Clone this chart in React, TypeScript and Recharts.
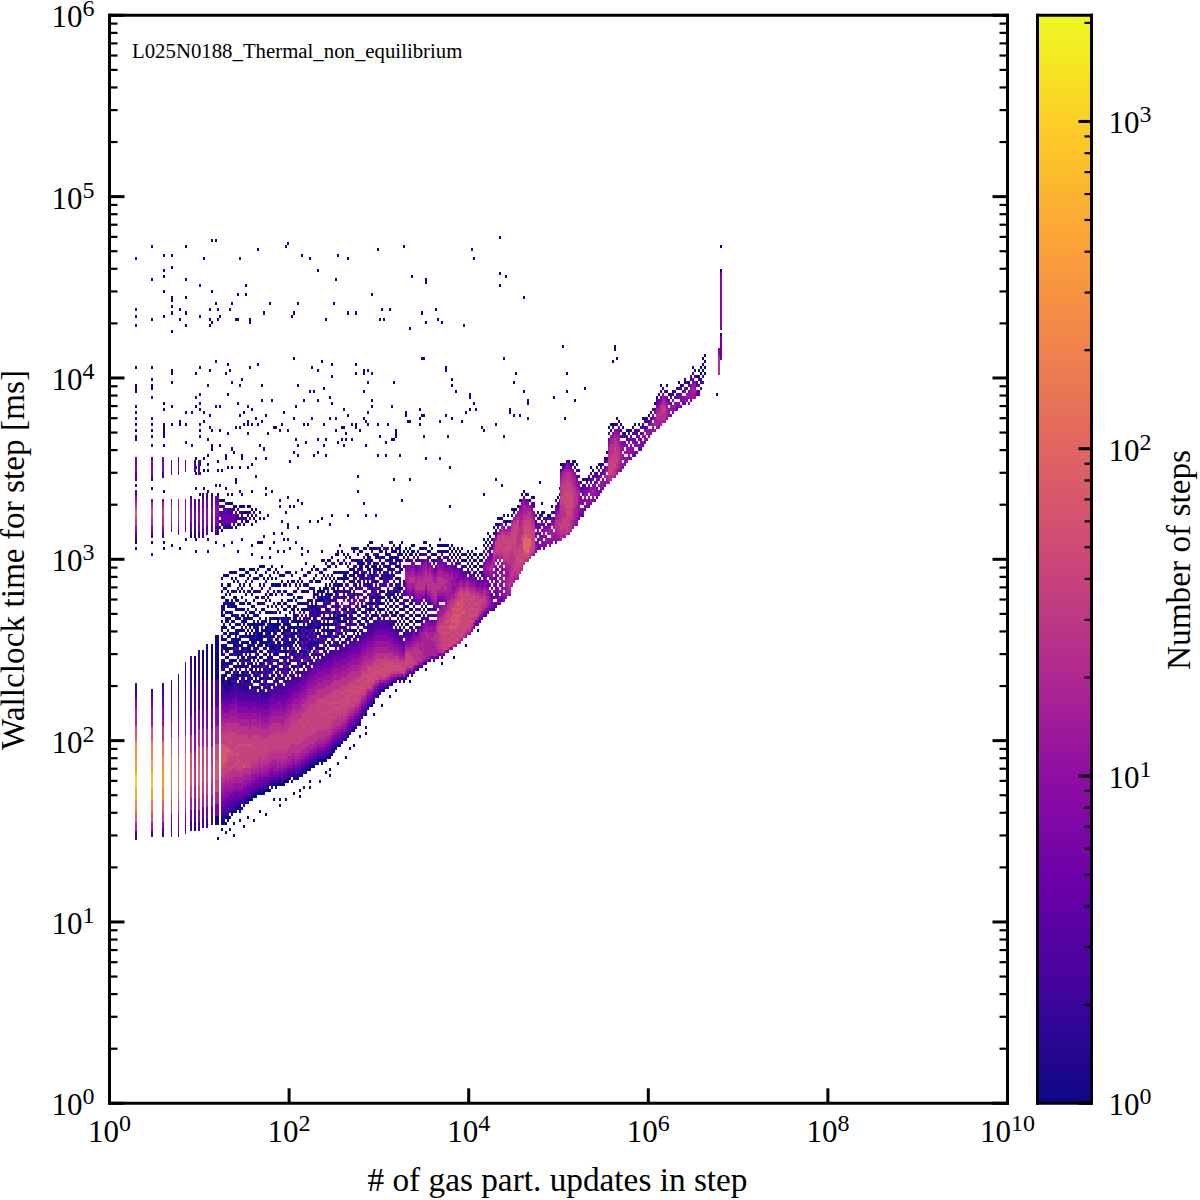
import { ScatterChart, Scatter, XAxis, YAxis, ReferenceArea } from 'recharts'

// histogram bins: 45 per decade in x, 60 per decade in y
const X_BINS_PER_DEC = 45
const Y_BINS_PER_DEC = 60
const BIN_W = 898 / 10 / X_BINS_PER_DEC
const BIN_H = 1088 / 6 / Y_BINS_PER_DEC

const xMajorTicks = [1, 1e2, 1e4, 1e6, 1e8, 1e10]
const yMajorTicks = [1, 1e1, 1e2, 1e3, 1e4, 1e5, 1e6]
const yMinorTicks = [2, 3, 4, 5, 6, 7, 8, 9]
const cbarMajorTicks = [1, 10, 100, 1000]
const COUNT_MAX = 2110

const plasmaStops = ['#0d0887', '#41049d', '#6a00a8', '#8f0da4', '#b12a90', '#cc4778', '#e16462', '#f2844b', '#fca636', '#fcce25', '#f0f921']

// vertical stripes at small integer update counts: x bin, width in bins, [y0, count, y1, count, ... yEnd]
const stripeBins = [12.75, 20.75, 26.5, 30.65, 34.1, 37.75, 40.25, 42.1, 44.5, 46.4, 48.5, 50.7, 53]
const stripeWidths = [1, 1, 1, 0.7, 0.7, 0.7, 1, 1, 1, 1, 1, 1, 1.7]
const stripeBands = [
  [87, 2, 90, 20, 93, 90, 96, 200, 100, 450, 104, 900, 109, 400, 114, 250, 120, 70, 125, 20, 131, 8, 134, 2, 139, 0, 186, 3, 189, 12, 191, 35, 194, 80, 197, 30, 199, 12, 201, 3, 203, 0, 206, 3, 209, 8, 212, 6, 214],
  [88, 2, 90, 15, 93, 60, 96, 150, 100, 350, 104, 700, 110, 300, 114, 200, 120, 60, 125, 12, 131, 6, 134, 2, 137, 0, 187, 2, 189, 8, 191, 25, 194, 50, 197, 20, 199, 6, 200, 0, 206, 2, 208, 8, 213, 4, 214],
  [88, 2, 91, 10, 93, 40, 96, 90, 100, 200, 104, 350, 110, 250, 115, 120, 120, 30, 125, 10, 131, 4, 135, 2, 139, 0, 187, 2, 189, 8, 191, 20, 194, 35, 197, 15, 199, 5, 200, 0, 207, 2, 209, 8, 212, 5, 214],
  [88, 3, 92, 8, 96, 50, 100, 100, 104, 150, 110, 120, 115, 60, 121, 15, 126, 6, 132, 2, 140, 0, 189, 5, 191, 15, 194, 20, 197, 12, 199, 3, 200, 0, 208, 5, 213],
  [88, 3, 92, 8, 96, 30, 100, 80, 104, 140, 110, 100, 115, 40, 121, 12, 127, 5, 133, 2, 142, 0, 188, 5, 191, 15, 194, 25, 197, 12, 200, 0, 208, 5, 214],
  [89, 2, 92, 6, 96, 20, 100, 60, 104, 100, 110, 80, 116, 40, 122, 10, 128, 4, 135, 2, 146, 0, 189, 3, 191, 8, 194, 12, 197, 6, 200, 0, 209, 3, 213],
  [90, 2, 93, 5, 97, 15, 101, 40, 105, 70, 111, 60, 116, 25, 122, 8, 128, 3, 136, 2, 148, 0, 187, 1, 189, 4, 192, 8, 197, 5, 200, 2, 201],
  [90, 1, 93, 3, 97, 8, 101, 15, 105, 25, 111, 20, 116, 10, 122, 5, 129, 2, 138, 1, 148, 0, 187, 1, 190, 3, 193, 5, 197, 3, 200, 0, 209, 2, 213],
  [90, 3, 93, 8, 97, 30, 101, 60, 105, 100, 112, 80, 118, 25, 124, 8, 130, 3, 140, 2, 150, 0, 187, 2, 189, 6, 192, 10, 196, 6, 199, 2, 200, 0, 208, 3, 213],
  [91, 2, 94, 5, 98, 15, 102, 30, 106, 50, 112, 40, 118, 15, 124, 6, 130, 3, 140, 1, 150, 0, 187, 2, 190, 6, 193, 8, 197, 5, 200, 2, 202],
  [91, 2, 94, 5, 98, 18, 102, 35, 106, 55, 112, 45, 118, 18, 124, 6, 130, 3, 140, 1, 152, 0, 188, 3, 191, 8, 194, 10, 197, 5, 200, 2, 202],
  [92, 2, 95, 4, 98, 12, 102, 25, 106, 40, 112, 30, 118, 12, 124, 5, 131, 2, 140, 1, 152, 0, 189, 3, 191, 6, 194, 8, 197, 4, 200, 2, 202],
  [92, 1, 95, 6, 99, 20, 103, 50, 107, 70, 114, 50, 119, 20, 125, 8, 131, 3, 140, 1, 155, 0, 188, 2, 191, 7, 194, 10, 198, 5, 201],
]

// count behind each character of the column strings, '.' is an empty bin
const levelCounts: Record<string, number> = { '1': 1, '2': 2, '3': 3, '4': 5, '5': 8, '6': 12, '7': 17, '8': 26, '9': 38, a: 50, c: 72, b: 105 }

// main body of the histogram: x bin, first y bin, counts going up the column
const heatColumns: [number, number, string][] = [
  [56, 90, '1.1122334455667788999cccccccca9998887766554433222112.2112.1121.11.21.1.1121..1.1.1'],
  [57, 91, '.11223344556677889999cccccca99998877665544332221211.1211.2.11.1.2.11..1.1.1.1..1'],
  [58, 92, '1.12233445566778899a9ccccca999988876655443332122.11.21.1.211.1.1.1.11.1...1.1'],
  [59, 93, '11223344556778889999a9acc99a99888766554433212112.1.21.1.11.2.1.1..11.1.1.1.'],
  [60, 94, '1.2233445667788899999aca9a999988776655433322111.21.11.2.1.1.21..1.1.1..1..1'],
  [61, 95, '1123344566778889a99aaa99a9998887766554433221211.1.21.1.2.11.1.1.1.1..1.1'],
  [62, 95, '.1223344566778889999a99999998887766554433222.121.1.1.21.1.1.2.1.1.1..1.'],
  [63, 96, '1122344566778899a9aa9a999998887766655443322211.21.1.21.11.1.1.1.1...1.1'],
  [64, 96, '.122344566778899aa9ca9a99988887665544333221.211.12.1.1.2.1.11.1.1..1'],
  [65, 97, '11234456677889a9a9999a999888776655443332221.1.21.1.21.1.11.1.1.1..1.'],
  [66, 97, '1.2344566778899a99999a99988877665544333222.121.12.1.1.21.1.1..1.1.1'],
  [67, 98, '1223445667788c999a99a999888776655443332122.11.21.1.21.1.1.1.1.1..1'],
  [68, 98, '.12344566778899a9999a9998887766554433222.1.1.21.1.2.1.1.21.1.1..1.'],
  [69, 99, '1123445667889a999a9a9988887765544433221221.1.21.1.1.21.1.1.1..1.1'],
  [70, 99, '.12344567788999a999a998887766554433322.21.1.2.21.11.1.2.1.1..1.1'],
  [71, 100, '112344566778899999a99988877665544332212.1.21.1.2.1.21.1.1.1.1..'],
  [72, 100, '.12344566788999a9999998887766554433222.1.21.1.21.1.1.2.1.1.1.1'],
  [73, 101, '1123445677889999a99998887766554433222.211.1.2.1.21.1.2.1.1..1'],
  [74, 101, '.1234456778899999999988776655443332.1.1.21.2.1.1.21.1.1.1.1.'],
  [75, 102, '112344567788899a99998887766554433212.21.1.21.1.2.1.1.1..1.1'],
  [76, 101, '.12344567788999999988887766554433222.1.1.2.21.1.1.21.1.1.1.'],
  [77, 102, '1123445677889999999888776655444322121.21.1.21.2.1.1.1.1.1'],
  [78, 102, '.12344567788999a999888776655443332.2.1.21.2.1.1.2.1.1.1..1'],
  [79, 103, '112345667888999999888776655443322212.1.2.1.21.1.2.1.1.1.'],
  [80, 103, '1.2344567788899999988877665544433322.1.21.21.1.1.2.1.1.1.1'],
  [81, 104, '112344567788899999988877665544332.2.21.1.2.1.21.1.1.1.1.'],
  [82, 104, '.12345667788999999888877665544433222.1.21.2.1.1.2.1.1.1'],
  [83, 104, '1123456677888999999888776655443322.21.2.1.2.1.21.1.1.1.'],
  [84, 104, '.12345677888999a99988877665554433222.1.2.21.1.2.1.1.1.1'],
  [85, 105, '1123456778889999998887776655443322.21.2.1.2.11.1.2.1.1.'],
  [86, 104, '.1234567788899999988877766554433322.1.21.2.1.1.2.1.1.1'],
  [87, 105, '112345677888999999888776655444332.21.2.1.21.1.1.2.1.1'],
  [88, 105, '.1234567788899999988887766554433222.1.2.21.1.2.1.1.1.'],
  [89, 106, '11234567788999999988877766554433322.21.1.2.1.21.1.1.1'],
  [90, 106, '.123456778889999999888776655444332.2.1.21.2.1.1.2.1.1'],
  [91, 106, '1.234566778889a9999988877665544433222.1.2.21.1.2.1.1.'],
  [92, 107, '11234567788899999999888776655443322.21.2.1.2.1.21.1.1'],
  [93, 106, '.12345677888999a9999888777665544332.2.1.21.2.1.1.1.1.'],
  [94, 107, '1123456778889999999988877665544433222.1.21.2.1.2.1.1'],
  [95, 107, '.1234567788899a9999988877766554433.2.1.2.21.1.1.2.1.'],
  [96, 108, '11234567788899999999988877665544332.21.2.1.2.1.1.1.1'],
  [97, 108, '.123456778889999a9999888776655443322.1.21.2.1.2.1.1'],
  [98, 109, '1123456778889999999998887766554433.21.2.1.2.1.1.1.'],
  [99, 109, '.1234567788899999a999988877665544333.2.1.21.2.1.1.1'],
  [100, 110, '112345677888999a9999998887766554433222.1.21.1.2.1.1'],
  [101, 110, '.123456778889999999999888776655443.22.1.2.21.1.1.1.'],
  [102, 111, '11234567888999a99999988877766554433.2.1.21.2.1.1.1'],
  [103, 111, '.1234567788899999a999988877665544332.1.2.1.21.1.1.'],
  [104, 112, '112345678889999999a999888776655443322.21.2.1.1.1.1'],
  [105, 112, '.12345677888999a9a99998887766554433.2.1.2.21.1.1.'],
  [106, 112, '1123456788899999a99999888776655443322.1.2.1.2.1.1'],
  [107, 112, '.123456778889999a999a988877766554433.21.2.1.1.1.'],
  [108, 113, '11234567888999a9a99999888776655443322.1.21.2.1.1'],
  [109, 113, '.12345677889999a999a9988877665544433.2.1.2.1.1.1'],
  [110, 114, '1123456788899a9a9a999888776655443322.21.1.2.1.1'],
  [111, 115, '112345678889999a9a99988877665544332.2.1.21.1.1.'],
  [112, 116, '11234567888999a9a99998887766554433.21.2.1.2.1.1'],
  [113, 117, '1234567788999a9a9a998887766554433222.1.2.1.1.1'],
  [114, 117, '.123456788899a9a99998887766554433.21.21.2.1.1.'],
  [115, 118, '123456788999a9a9a99888776655443322.1.2.1.1.1'],
  [116, 119, '123456788899a9a9a99888776655443322.21.2.1.1.'],
  [117, 119, '.234567889999aa9a998887766554433.2.1.21.1.1.1'],
  [118, 120, '12345678999a9aa9a98887766554433222.1.2.1.1.'],
  [119, 121, '12345678899aaa9a998887766554433.21.2.1.1.1'],
  [120, 122, '12345678999a9aa9a8887766554433222.1.21.1.1'],
  [121, 122, '.23456788999aaa9a98887766554433.2.1.2.1.1.'],
  [122, 123, '1234567899a9aaa9988877665544332.21.2.1.1'],
  [123, 124, '123456789a9aaa99988776655443322.1.2.1.1.'],
  [124, 124, '.2345678999aaa9a9887766554433.21.2.1.1.'],
  [125, 125, '1234567899aaa9a988877665544332.2.21.1.1'],
  [126, 127, '123456789aaa9a9988776655443322.1.2.1.1'],
  [127, 127, '.2345678a9aaa9a98887766554433.21.1.1.1'],
  [128, 128, '123456789aaa9a98887766554433.2.21.1.1'],
  [129, 130, '12345679aaaa9a9887766554433221.2.1.1.'],
  [130, 130, '.234567a9aaa9a988776655443322.1.21.1.1'],
  [131, 131, '12345789aaaa9988776655443322.21.1.1.1'],
  [132, 132, '1234568aaaaa9988776655443322.1.2.1.1'],
  [133, 133, '.234578aaa9a998877665544332.21.1.1.1.'],
  [134, 134, '123468a9aaa99887766554433222.1.1.1'],
  [135, 135, '123568aaaa9988776655443322.21.1.1.1'],
  [136, 135, '.23478aaa9a98877665544332.2.1.1.1.1'],
  [137, 136, '12469aaaaa9887766554433222.1.2.1.1'],
  [138, 136, '.2468aaaa9a9877665544332.21.1.1.1.'],
  [139, 137, '13579aaaa98877665544332.2.1.1.1.1'],
  [140, 137, '.2468aaaa988766554433222.1.2.1.1'],
  [141, 138, '13579aaa98876655443322.21.1.1.1.'],
  [142, 138, '.2479aaa98776554433.22.1.2.1.1.1'],
  [143, 139, '2479aa9987665443322.1.21.1.12.1.1'],
  [144, 139, '.368aa998766544332.2.1.1.2.1.1.1.'],
  [145, 139, '1369aa9876654433.21.1.2.1.2.1.21.1'],
  [146, 139, '.259a99876554332.2.1.21.1.2.32.1.'],
  [147, 139, '1379a998765433.21.1.2.1.2332.43.21'],
  [148, 140, '13789a99987655332.1.1.2.1.1.3445677654.2.1.1'],
  [149, 141, '1479a99987654432.1.2.1.1.3.4567776655.21.1'],
  [150, 141, '.36999998765433.1.1.2.1.2.45677887654.2.1.1'],
  [151, 141, '24799998877654321.2.1.1.12.456788776543.21.1'],
  [152, 142, '246998888765654.2.1.2.1.2345678877654.2.1.1'],
  [153, 142, '.3598888877653.2.1.1.2.3456788776543.2.1'],
  [154, 143, '147888888765432.1.1.3.4566788877654.32.1'],
  [155, 143, '.36888877766654.2.1.2.3456788887655.2.1.1'],
  [156, 144, '25878878777654321.1.2.44678887766543.2.1'],
  [157, 144, '.36877877777665.32.1.3.4678888776654.2.1.1'],
  [158, 145, '1577777777876654.2.1.23456788887765.2.1.1'],
  [159, 145, '.4777777787665432.1.2456788887765432.1'],
  [160, 146, '25777777776654.3.2.24567888887765.2.1.1'],
  [161, 146, '.4777778776653.2.3.4677888887665.2.1.1'],
  [162, 146, '25777778876654.3.24677888876654.21.1'],
  [163, 146, '.4777888887765.3.456788888776543.2.1'],
  [164, 147, '2578888889987765.43456788887766542.1.1'],
  [165, 147, '.48898989999887765.456788887765432.2.1.1'],
  [166, 147, '26899999a9a9887766.45677888776554.21.1'],
  [167, 148, '389a9a9a9a9a88776.5567888776554.3.2.1'],
  [168, 148, '.5a9a9aa9a9a9987765667878776543.2.1.1'],
  [169, 149, '48a9a9a9a9c9a9887767777777654.32.1.1'],
  [170, 149, '.6a9a9aaca9a99888776777776554.2.1.1'],
  [171, 150, '59a9a9acacca9a988776666776543.2.1.1'],
  [172, 150, '.7a9a9acacacac99877656665543.2.1.1'],
  [173, 151, '69a9aacacccacaa9887665665432.2.1'],
  [174, 151, '.8a9a9accacacaca9987654554.32.1.1'],
  [175, 152, '78a9a9acacacaca9a98765443.2.1.1'],
  [176, 153, '79a9a9a9acacacaa987654432.1.2.1'],
  [177, 153, '.89a9a9aaca9a9a98765432.2.1.1'],
  [178, 154, '689a9aa9a9a9a9a9876543.2.1.1'],
  [179, 155, '789aa9a9aa9a9a98765.32.1.1.1'],
  [180, 155, '68a9a9a9a9a9a98765432.1.2.1'],
  [181, 156, '579a9a9aa9a98876543.2.1.1.1'],
  [182, 157, '4689a9a9a9a98765432.1.1.1'],
  [183, 158, '358a9a9a99876543.2.1.2.1.1'],
  [184, 158, '34799a9a9987643.2.1.1.1'],
  [185, 159, '2468999a8876543.1.2.1.1'],
  [186, 160, '3578899876543.21.1.1.1.'],
  [187, 160, '.357889988654435665.3.2.1.1'],
  [188, 161, '3468888776544566654.3.1.1'],
  [189, 162, '35677766544.5677654.3.2.1.1'],
  [190, 162, '.4566554.4.56787654432.1.1'],
  [191, 163, '345543.4.4567887654.32.1'],
  [192, 163, '.44.3.4.5.4.5.6788987654.1.1'],
  [193, 164, '34.44.5.4.5.45.67899996521.1'],
  [194, 165, '3.4.54.6.5.4.5.689999996.21.1'],
  [195, 165, '.45.6.5.6.5.6.78899a99976.2.1'],
  [196, 166, '3.5.6.6.6.5.6.7899999a9876.1'],
  [197, 166, '.56.6.7.6.6.7899a999a9875.2.1'],
  [198, 167, '5.6.7.6.6.7.8999a9a9987.21'],
  [199, 167, '.7778776677889999a9a9876.2.1'],
  [200, 168, '678888887788899a9a99876.1'],
  [201, 171, '788898888888999a999886.1.1'],
  [202, 172, '7788998889999a9a999986.21'],
  [203, 172, '.788999999999999a9a9876.1'],
  [204, 173, '7889999a99988888999a876.1'],
  [205, 174, '.8899a99a998888887777654.1'],
  [206, 176, '889a9a9999a9888887776654.1'],
  [207, 178, '899aabbbbaaaa9988777654.1'],
  [208, 178, '.8aabbbbbbaaa998877654.1'],
  [209, 179, '89abbbbbaaaaa99887654.1'],
  [210, 180, '89aabbbaaaa9988876.1'],
  [211, 180, '.7999a9a99988876543.1'],
  [212, 181, '6899a9999887665.32.1'],
  [213, 182, '5665.54.432.2'],
  [214, 182, '.4453.5543.2.1'],
  [215, 183, '45.553.45.32'],
  [216, 183, '.5564.5.43.21'],
  [217, 183, '455.66543.2.1'],
  [218, 184, '5665.64.32'],
  [219, 184, '.56.7654.31'],
  [220, 184, '566.7764.21'],
  [221, 185, '56777.654.2.1'],
  [222, 185, '.667.7653.1'],
  [223, 185, '5667788877543.2'],
  [224, 185, '.6778888776432.1'],
  [225, 186, '67888988877654.2.1'],
  [226, 186, '788999888888999888877652.1'],
  [227, 186, '.7889999888899a99998877631'],
  [228, 187, '78899998899aa9a9998887642'],
  [229, 187, '.8999999a9a9aaaa9998887653'],
  [230, 188, '7889999a9aaaaa99998887541'],
  [231, 189, '788899a9aaaa99998887632'],
  [232, 190, '67788889999998887765.21'],
  [233, 190, '.667777888888877765.2.1'],
  [234, 191, '56677778888776654.2.1'],
  [235, 193, '4556666677654.2.1'],
  [236, 193, '.455.554.43.2'],
  [237, 194, '445.55.4432.1'],
  [238, 196, '45.566543.2'],
  [239, 196, '.566.654.21'],
  [240, 197, '4556.654.32'],
  [241, 198, '56.766.43.2.1'],
  [242, 198, '.566765.43.1'],
  [243, 199, '5.66654.32'],
  [244, 200, '4554.5432.1'],
  [245, 200, '.55.6.54.3.1'],
  [246, 202, '4566.53.21'],
  [247, 203, '5665.43.2'],
  [248, 204, '56.7654.21'],
  [249, 204, '.677.76.42.1'],
  [250, 205, '788999998877654.2.1'],
  [251, 206, '889a99998888775.2.1'],
  [252, 206, '.8999a9998887765.21'],
  [253, 207, '7889a99999888765.1'],
  [254, 208, '778899998887765.2.1'],
  [255, 208, '.677888887776654.1'],
  [256, 209, '5667777665.3.2.1'],
  [257, 210, '56.66.655.32.1'],
  [258, 211, '566.6.54.21'],
  [259, 212, '56.665.32.1'],
  [260, 212, '.5666.54.31'],
  [261, 213, '5.565.43.2'],
  [262, 213, '.455.54.2.1'],
  [263, 214, '45.554.32.1'],
  [264, 215, '4.55.432'],
  [265, 215, '.45.54.3.1'],
  [266, 216, '4554.3.2'],
  [267, 217, '45.65.32.1'],
  [268, 218, '566.53.21'],
  [269, 219, '5.664.32'],
  [270, 220, '566.53.1'],
  [271, 221, '56.654.2'],
  [272, 221, '.667.54.2'],
  [273, 222, '6.776.53.1'],
  [274, 222, '.67788775431'],
  [275, 223, '6778887654.1'],
  [276, 224, '7788888654.2.1'],
  [277, 224, '.7889988765.2'],
  [278, 225, '788898765.3'],
  [279, 226, '67776654.2.1'],
  [280, 226, '.566.53.1'],
  [281, 227, '5.664.32'],
  [282, 228, '556.5.31'],
  [283, 228, '.565.4.2'],
  [284, 229, '456.43.2'],
  [285, 229, '.55.53.2.1'],
  [286, 230, '4.554.31'],
  [287, 230, '.455.3.2'],
  [288, 231, '566.54.21'],
  [289, 231, '.566.3.2'],
  [290, 231, '5.665.31'],
  [291, 232, '566665.32'],
  [292, 232, '.6677654.2.1'],
  [293, 233, '667665.3.1'],
  [294, 233, '.44.32.1'],
  [295, 234, '33.3.21.1'],
  [296, 236, '3.32.1.1'],
  [297, 238, '2.2.1.1.1'],
  [298, 241, '1.1.1.1'],
  [305, 241, '888888655'],
  [306, 246, '4444444410555555555555555554410000000100'],
  [304, 234, '1'],
]

// purple noise that fills the holes of the body above the ridge: x bin, first y bin, counts going up
const fillColumns: [number, number, string][] = [
  [62, 136, '3.42..3.1.2...2.1..1'], [63, 137, '.3.2.4...2.1.3..1.1'], [64, 136, '43..2.3.1...1.2.1..1'], [65, 137, '2.4.3..1.2.1..2..1'], [66, 136, '.3.42.1...3.2.1...1'], [67, 137, '3..2.4.1.2...1.1.2'],
  [68, 136, '4.3...2.3.1..2..1.1'], [69, 137, '.4.23..1.2...1.1..'], [70, 136, '3.4.2..3.1.2..1...1'], [71, 137, '4..3.2.1..3.1.2.1'], [72, 136, '.5.3.4..2.1...2.1.1'], [73, 137, '4.3..4.2...3.1..1'],
  [74, 137, '3.5.4..3.2.1.2...1'], [75, 137, '.4.34.2...3.1.1.2'], [76, 136, '5.3.4.3..2.1...2.1.1'], [77, 137, '4.5..3.4.2...1.3.1'], [78, 137, '.4.35.2..3.1.2...1.1'], [79, 138, '5..4.3.4.1.2..1.3'],
  [80, 138, '4.5.3..4.2.3...1.1.2'], [81, 139, '.5.4.3.4..2.1.3...1'], [82, 139, '5.4..5.3.2...3.1.1'], [83, 139, '.4.5.4.3.4..2.1.2..1'], [84, 140, '5.3.4.5..3.2.3...1.1'], [85, 140, '.5.4.3.5.2..3.1.2.1'],
  [86, 140, '4.5..4.3.4.2...3.1.1'], [87, 141, '5.3.5.4..3.2.3.1..1'], [88, 141, '.4.5.3.4.5..2.3...2.1'], [89, 142, '5.4..5.4.3.2.4.1.1'], [90, 142, '.5.3.5.4..3.2.3...1.1'], [91, 142, '4.5.4.3.5.2..3.1.2'],
  [92, 143, '5..4.5.3.4.3.2...1.2.1'], [93, 143, '.4.5.4..5.3.2.3.1.1'], [94, 144, '5.3.5.4.3..4.2...3.1.1'], [95, 144, '.5.4.3.5.4.2.3.1..2'], [96, 145, '4..5.4.5.3.4..2.3.1.1'], [97, 145, '.5.4.5..3.4.2.3...1.1'],
  [98, 146, '5.3.5.4.3.4..3.2.1.2'], [99, 146, '.4.5..4.5.3.2.3..1.1'], [100, 147, '5.4.3.5.4..3.2.3.1.1'], [101, 147, '.5.4.5.3.4.2..3.1.2'], [102, 148, '4..5.4.5.3.4.2.3...1.1'], [103, 148, '.5.3.4.5..4.3.2.1.2'],
  [104, 149, '5.4.5.3.4.3..2.3.1.1'], [105, 149, '.4.5..4.5.3.4.2...2.1'], [106, 150, '5.3.5.4.3.4.2.3.1.1'], [107, 150, '.5.4.5.3..4.3.2.1..1'], [108, 151, '4.5..4.5.3.4.2.3.1.1'], [109, 151, '.5.4.3.5.4.2..3.1.2'],
  [110, 152, '5.3.5.4..3.4.2.3...1.1'], [111, 153, '.4.5.4.3.5.2.3.1.2'], [112, 153, '5..4.5.3.4.3..2.1.1.1'], [113, 154, '.5.3.4.5.4.2.3.1..2'], [114, 154, '4.5.4..5.3.4.2.3.1.1'], [115, 155, '.4.5.3.4.5..3.2.1.2'],
  [116, 155, '5.3.5.4.3.4.2.3...1.1'], [117, 156, '.5.4..5.3.4.2.1.2.1'], [118, 156, '4.5.3.4.5..3.2.3.1.1'], [119, 157, '.4.5.4.3.4.2..3.1.2'], [120, 157, '5..4.5.3.4.3.2.1.1.1'], [121, 158, '.5.3.4.5.2..3.1.2.1'],
  [122, 158, '4.5.4..3.4.3.2.1.1.1'], [123, 159, '.4.5.3.5.4.2..3.1.2'], [124, 159, '5.3.4.5.3..4.2.1.2.1'], [125, 160, '.5.4..3.4.3.2.3.1.1'], [126, 160, '4.5.3.4.2.3..1.2.1.1'], [127, 161, '.4.5.4..3.2.3.1..2'],
  [128, 161, '5.3.4.3.4.2...3.1.1'], [129, 162, '.4.5..3.4.2.3.1.2'], [130, 162, '4.3.4.3..2.3.1..1.1'], [131, 163, '.5.3.4.2.3.1..2.1'], [132, 163, '3.4..4.3.2.3.1.1'], [133, 164, '.4.3.4.2..3.1.2.1'],
  [134, 164, '4.3.2.4.3.2.1...1'], [135, 165, '.3.4.3..2.3.1.2'], [136, 165, '3.4.2.3.1..2.1.1'], [137, 166, '.3.4.2.3.1.2..1'], [138, 166, '4.2..3.2.3.1.1'], [139, 167, '.3.4.2.1.2..1.1'],
  [140, 167, '3.2.3..2.1.2.1'], [141, 168, '.4.2.3.1..2.1.1'], [142, 168, '2.3.2.1.2.1.1'], [143, 169, '.3..2.3.1.1..1'], [144, 169, '3.2.1.2.1..2'], [145, 170, '.2.3.1.2.1.1'],
  [192, 163, '2.3.3.4.3.5.4.'], [193, 165, '3.3.4.4.3.5.'], [194, 166, '4.4.5.4.5.4.'], [195, 165, '4.3.5.5.5.5.4'], [196, 167, '4.5.5.6.5.6'], [197, 166, '5.6.5.6.6.6'], [198, 168, '6.6.7.6.6.7'],
]

// dark noise reaching above the body: x bin, first y bin, counts going up the column
const noiseColumns: [number, number, string][] = [
  [56, 164, '1..2.1...1.'], [57, 163, '.1..1..2...1..'], [58, 165, '2..1.1...1'], [59, 164, '.1...1.1..1.'], [60, 162, '1.2...1..1...1'],
  [61, 160, '..1.21...1...1.1'], [62, 161, '1...1.1.2..1..1'], [63, 160, '.2.1...1.1...1.1'], [64, 158, '1..2.1..1...1.1...'], [65, 159, '.1..1.2...1.1..1.1'],
  [66, 157, '2.1...1.1.2..1...1.1'], [67, 158, '.1.2...1...1.1..1.1'], [68, 155, '1.1..2.1...1.1...2..1'], [69, 156, '..2.1..1.1...2...1.1.'], [70, 154, '1...1.2.1..1...1.1..1.1'],
  [71, 155, '.1.2...1.1...1.1.2...1'], [72, 153, '2.1..1...2.1.1..1...1..1'], [73, 152, '.1.3.1...1.2...1.1...1.1.'], [74, 153, '1..1.2..1...1.1.2...1..1'], [75, 151, '.2.1...1.3.1..1...1.1..1..1'],
  [76, 152, '1.1..2.1...1.2.1..1...1..1'], [77, 150, '..2.1.1..3...1.1.2...1.1...1'], [78, 151, '1...2.1..1.1...2.1...1..1'], [79, 150, '.3.1..1.2...1.1..1.2...1..1'], [80, 149, '1.1.2...3.1..1...1.1.2...1.1'],
  [81, 150, '.2..1.1...2.1.1...1..1.1...1'], [82, 149, '3.1...2.1..1.3..1...1.1...2'], [83, 148, '.1.2.1..3...1.1.2...1..1.1..1'], [84, 149, '2..1.3.1...1..2.1...1.1...1'], [85, 148, '.3.1..1.2...3.1..1...2.1..1'],
  [86, 147, '1.2...1.3.1..1...2.1.1...1.1..1'], [87, 148, '.1..3.1...2.1..1.1...2.1..1'], [88, 147, '2.1.1..3...1.2..1.1...1.2...1'], [89, 148, '.3...1.2.1..1...3.1.1...1..1'], [90, 147, '1.2.1...3.1..2...1.1.1..1...1'],
  [91, 148, '.1..3.1..1.2...1..1.2...1.1'], [92, 147, '3.1...2.1...3.1.1...1.2..1'], [93, 146, '.2.1.3...1.2..1...3.1..1.1...1'], [94, 147, '1..3.1..2...1.1.3...1..2.1'], [95, 147, '.2...3.1.1...2.1..1.1...2.1'],
  [96, 148, '3.1..1.2...3.1...2.1.1..1...1'], [97, 148, '.1.3...2.1..1.3..1...1.2..1'], [98, 149, '2..1.3.1...2..1.1...3.1..1...1'], [99, 149, '.3.1...2.1.1...3.1..1.2...1'], [100, 150, '1.2..3.1...1.2..1...1.3..1'],
  [101, 150, '.1..2.1.3...1.1.2...1.1...1'], [102, 151, '3...1.2.1..3.1...1.2..1...1'], [103, 151, '.2.3..1...2.1.1..3...1.1.2'], [104, 152, '1...3.2..1.1...2.1..1...1'], [105, 152, '.3.1..2...1.3.1...1.1..2'],
  [106, 153, '2..1.3...1.2..1.1...3.1...1'], [107, 153, '.1.3..2.1...1.3..1...1.2..1'], [108, 154, '3.1...2..1.3.1...1.1..2.1'], [109, 154, '.2.1.3...1..2.1.1...3..1.1'], [110, 155, '1..3.1.2...1.1..3.1...1.1'],
  [111, 155, '.3.1...2.1.1...2.1.1...3.1'], [112, 156, '2..3.1..1.2...1..3.1..1'], [113, 157, '.1.2...3.1.1..2...1.1...1'], [114, 157, '3..1.2.1...3.1..1.2...1.1'], [115, 158, '.2.3..1..1.2...3.1..1'],
  [116, 159, '1.3...2.1...1.2.1..3...1'], [117, 159, '.2.1.3..1.2...1.1...2.1'], [118, 160, '3..1...2.1.3..1...1.2'], [119, 161, '.1.3.1..2...1.1.3...1'], [120, 161, '2...3.1.1..2.1...3.1.'],
  [121, 162, '.3.1..2...1.3.1..1...2'], [122, 163, '1..3.1...2.1.1..3...1'], [123, 163, '.2.1.3..1...2.1.1...1'], [124, 164, '3...1.2.1..3...1.1.2'], [125, 165, '.1.3..1.2...1.3..1'],
  [126, 165, '2..1.3...1.2.1...3'], [127, 166, '.3.1..2.1...1.3..1'], [128, 167, '1.2...3.1.1...2.1'], [129, 167, '.3..1.2...1.3.1..1'], [130, 168, '2.1...3.1..2...1'],
  [131, 168, '.1.3.1...2.1..3..1'], [132, 169, '3...2.1.1...3.1'], [133, 169, '.2.1..3.1...2.1'], [134, 170, '1.3...1.2.1..3'], [135, 170, '.3.2..1...3.1.'],
  [136, 171, '2..1.3.1...2.1'], [137, 171, '.1.3...2.1..3'], [138, 172, '3.1..2...1.3'], [139, 172, '.2.3.1...1.2'], [140, 173, '1...3.2.1...2'],
  [141, 173, '.3.1..2...1.3'], [142, 174, '2.1.3...1.2'], [143, 174, '.1..3.1..2.'], [144, 175, '3...1.2.1'], [145, 175, '.2.3...1.1'],
  [146, 176, '1..2.1...1'], [147, 176, '.3..1.1'],
]

// the small clump near 1700 ms
const clumpColumns: [number, number, string][] = [
  [55, 190, '1.2.33.2.1'], [56, 189, '1.23433.2.1'], [57, 190, '23444332.1'], [58, 190, '1244443.2'], [59, 189, '.2344432.1'], [60, 190, '1344432.1'],
  [61, 190, '2.34332.1'], [62, 191, '2344.21'], [63, 190, '1.2333.2'], [64, 191, '1.23.1'], [65, 191, '2.3.2.1'], [66, 192, '1222.1'], [67, 191, '1.2.1.1'],
  [68, 192, '12.1'], [69, 192, '1.21.1'], [70, 193, '2.2.1'], [71, 191, '1..1.1'], [72, 193, '1.2'], [73, 192, '1.2.1'], [75, 193, '1.1'], [77, 193, '1'], [79, 194, '1'],
]

// single scattered steps away from the main body [x bin, y bin]
const sparseDots = [
  [51, 285], [53, 285], [21, 283], [38, 283], [89, 284], [88, 283], [74, 282], [134, 282], [27, 280], [13, 279], [31, 280], [47, 279], [65, 279], [96, 280], [114, 280], [100, 279], [119, 279],
  [27, 275], [31, 276], [104, 275], [21, 272], [27, 273], [38, 272], [113, 272], [68, 270], [45, 270], [27, 268], [51, 268], [64, 267], [68, 267], [31, 266], [38, 266], [131, 267], [31, 265],
  [61, 264], [53, 264], [80, 264], [94, 264], [112, 264], [31, 263], [35, 262], [13, 262], [50, 262], [54, 262], [60, 262], [31, 261], [38, 261], [13, 260], [21, 259], [27, 260], [45, 260],
  [55, 260], [77, 261], [92, 261], [91, 260], [119, 261], [123, 261], [136, 262], [140, 262], [135, 259], [137, 259], [35, 259], [50, 259], [63, 259], [70, 259], [70, 258], [64, 259], [54, 259],
  [51, 258], [108, 259], [13, 257], [38, 257], [50, 257], [31, 255],
  [92, 246], [106, 245], [13, 243], [21, 243], [45, 243], [53, 245], [59, 244], [70, 243], [74, 244], [101, 243], [104, 242], [111, 244], [123, 244], [127, 242], [129, 242], [31, 242], [31, 241],
  [43, 241], [50, 242], [58, 241], [60, 242], [123, 241], [127, 241], [131, 241], [111, 240], [21, 239], [31, 238], [61, 238], [66, 239], [65, 237], [129, 238], [142, 238], [13, 237], [21, 237],
  [49, 237], [76, 237], [94, 237], [107, 236], [13, 236], [13, 235], [21, 236], [100, 235], [102, 235], [127, 235], [59, 234], [45, 234], [43, 233], [21, 233], [110, 233], [131, 232], [97, 232],
  [104, 232], [76, 232], [81, 232], [27, 231], [45, 231], [64, 231], [55, 230], [53, 230], [93, 230], [131, 230], [141, 230], [111, 231], [13, 230], [27, 229], [31, 230], [43, 230], [45, 229],
  [69, 230], [71, 229], [117, 229], [87, 228], [129, 228], [38, 228], [41, 228], [47, 228], [13, 228], [67, 228], [13, 226], [21, 226], [50, 227], [78, 227], [69, 225], [76, 225], [65, 227],
  [73, 226], [92, 226], [101, 226], [110, 226], [113, 226], [119, 227], [127, 226], [128, 225], [35, 225], [47, 225], [45, 224], [65, 223], [63, 223], [67, 224], [69, 224], [74, 224], [71, 224],
  [86, 224], [83, 223], [82, 223], [97, 224], [99, 224], [107, 224], [121, 224], [123, 224], [129, 224], [134, 224], [139, 224], [13, 224], [21, 224], [27, 223], [27, 224], [31, 224], [13, 222],
  [21, 222], [27, 221], [27, 222], [35, 224], [38, 224], [45, 222], [50, 223], [51, 222], [55, 222], [59, 221], [69, 221], [79, 221], [85, 222], [89, 222], [113, 222], [116, 223], [117, 223],
  [123, 223], [125, 222], [143, 222], [143, 221], [135, 220], [118, 221], [13, 220], [21, 220], [27, 220], [45, 220], [49, 219], [13, 219], [93, 219], [98, 218], [104, 219], [108, 219], [116, 219],
  [121, 219], [118, 219], [138, 218], [141, 219], [38, 218], [41, 217], [21, 217], [27, 217], [51, 217], [55, 217], [75, 217], [77, 216], [94, 217], [107, 217], [114, 218], [117, 217], [51, 216],
  [61, 216], [62, 215], [92, 215], [104, 215], [66, 214], [58, 214], [49, 214], [73, 213], [66, 213], [58, 213], [78, 213], [54, 212], [94, 214], [90, 212], [102, 214], [108, 214], [138, 214],
  [43, 213], [45, 212], [47, 213], [49, 211], [54, 209], [59, 210], [61, 210], [65, 210], [69, 210], [43, 210], [45, 211], [71, 211], [47, 209], [49, 209], [56, 209], [45, 208], [43, 208], [63, 206],
  [73, 207], [63, 205], [53, 204], [55, 204], [13, 204], [21, 203], [27, 202], [43, 203], [45, 201], [47, 203], [49, 202], [54, 201], [58, 203], [59, 201], [61, 201], [65, 202], [66, 201], [71, 202],
  [78, 203], [81, 202], [78, 201], [89, 200], [85, 199], [94, 199], [96, 198], [90, 197], [92, 197], [127, 198], [85, 197], [88, 195], [111, 194], [119, 194], [128, 194], [133, 194], [106, 193],
  [100, 192], [104, 192], [110, 191], [86, 192], [89, 191], [89, 190], [94, 190], [82, 188], [86, 188], [77, 187], [74, 185], [76, 185], [82, 185], [87, 186], [89, 186], [93, 185], [115, 184],
  [130, 185], [80, 183], [84, 182], [90, 183], [96, 183], [114, 182], [122, 182], [131, 183], [135, 183], [138, 182], [145, 183], [96, 181], [99, 182], [106, 182], [117, 181], [129, 180], [134, 181],
  [142, 180], [13, 185], [21, 185], [27, 185], [31, 184], [35, 183], [38, 186], [43, 186], [49, 186], [53, 185], [61, 185], [66, 186], [71, 184], [75, 185], [13, 183], [21, 181], [27, 183], [43, 182],
  [49, 182], [57, 184], [64, 182], [71, 181], [76, 180], [80, 180], [87, 182], [195, 286], [147, 283], [181, 282], [182, 279], [151, 273], [158, 272], [158, 271], [195, 274], [198, 273], [195, 270],
  [207, 266], [163, 262], [156, 261], [164, 259], [166, 258], [158, 258], [150, 256], [177, 257], [227, 250], [253, 249], [253, 250], [254, 246], [252, 245], [157, 246], [156, 246], [197, 246],
  [168, 242], [168, 243], [171, 239], [203, 241], [229, 241], [142, 238], [202, 238], [171, 237], [173, 235], [207, 235], [229, 235], [238, 236], [180, 234], [180, 233], [222, 233], [233, 232],
  [209, 231], [209, 232], [182, 231], [155, 229], [180, 229], [183, 229], [178, 228], [200, 228], [200, 229], [148, 227], [148, 228], [156, 227], [157, 227], [168, 227], [202, 227], [205, 227],
  [155, 226], [171, 226], [209, 226], [228, 226], [149, 225], [150, 225], [165, 225], [176, 225], [155, 224], [193, 224], [186, 223], [143, 222], [187, 222], [143, 220], [157, 220], [169, 220],
  [197, 220], [142, 219], [128, 217], [134, 214], [145, 214], [158, 213], [165, 213], [170, 210], [124, 207], [142, 206], [150, 206], [124, 202], [146, 199], [170, 197], [187, 201], [196, 204],
  [193, 206], [215, 205], [216, 198], [224, 196], [229, 199], [54, 87], [60, 90], [62, 92], [62, 88], [65, 93], [65, 96], [67, 91], [72, 93], [75, 96], [78, 95], [85, 98], [85, 100], [88, 100], [92, 102],
  [95, 101], [95, 103], [100, 104], [100, 106], [105, 106], [110, 108], [110, 110], [114, 112], [118, 114], [120, 117], [125, 121], [128, 124], [128, 122], [132, 128], [136, 131], [140, 134], [143, 136],
  [58, 89], [69, 94], [82, 100], [97, 104], [108, 109], [122, 118], [150, 139], [158, 143], [166, 145], [172, 147], [178, 151], [184, 156],
]

type HeatCell = { x: number; y: number; w: number; h: number; count: number }

const countColor = (count: number) => {
  const t = Math.min(1, Math.log10(count) / Math.log10(COUNT_MAX)) * (plasmaStops.length - 1)
  const i = Math.min(plasmaStops.length - 2, Math.floor(t))
  const a = plasmaStops[i]
  const b = plasmaStops[i + 1]
  const mix = (s: number) => {
    const c0 = parseInt(a.slice(s, s + 2), 16)
    const c1 = parseInt(b.slice(s, s + 2), 16)
    return Math.round(c0 + (c1 - c0) * (t - i))
  }
  return `rgb(${mix(1)},${mix(3)},${mix(5)})`
}

const makeCell = (xb: number, w: number, yb: number, h: number, count: number): HeatCell => ({
  x: Math.pow(10, (xb + w / 2) / X_BINS_PER_DEC),
  y: Math.pow(10, (yb + h / 2) / Y_BINS_PER_DEC),
  w,
  h,
  count,
})

const pushBands = (out: HeatCell[], xb: number, w: number, bands: number[]) => {
  for (let i = 0; i + 2 < bands.length; i += 2) {
    if (bands[i + 1] > 0) out.push(makeCell(xb, w, bands[i], bands[i + 2] - bands[i], bands[i + 1]))
  }
}

const pushColumn = (out: HeatCell[], xb: number, y0: number, levels: string) => {
  levels.split('').forEach((ch, i) => {
    const count = levelCounts[ch]
    if (count) out.push(makeCell(xb, 1, y0 + i, 1, count))
  })
}

const buildCells = () => {
  const out: HeatCell[] = []
  sparseDots.forEach(([xb, yb]) => out.push(makeCell(xb, 1, yb, 1, 1)))
  noiseColumns.forEach(([xb, y0, levels]) => pushColumn(out, xb, y0, levels))
  fillColumns.forEach(([xb, y0, levels]) => pushColumn(out, xb, y0, levels))
  clumpColumns.forEach(([xb, y0, levels]) => pushColumn(out, xb, y0, levels))
  heatColumns.forEach(([xb, y0, levels]) => pushColumn(out, xb, y0, levels))
  stripeBins.forEach((xb, i) => pushBands(out, xb, stripeWidths[i], stripeBands[i]))
  return out
}

const cells = buildCells()

const HeatRect = (props: any) => {
  const { cx, cy, payload } = props
  const w = payload.w * BIN_W
  const h = payload.h * BIN_H
  return <rect x={cx - w / 2} y={cy - h / 2} width={w} height={h} fill={countColor(payload.count)} shapeRendering="crispEdges" />
}

const FONT = '"Liberation Serif", "Times New Roman", serif'

const PowerLabel = ({ x, y, exp, anchor }: { x: number; y: number; exp: number; anchor: string }) => (
  <text x={x} y={y} textAnchor={anchor} fontFamily={FONT} fontSize={31} fill="#000">
    10
    <tspan dy={-11} fontSize={24}>
      {exp}
    </tspan>
  </text>
)

const isMajor = (v: number) => Math.abs(Math.log10(v) - Math.round(Math.log10(v))) < 1e-9

const tickLine = (x1: number, y1: number, x2: number, y2: number, major: boolean) => (
  <line x1={x1} y1={y1} x2={x2} y2={y2} stroke="#000" strokeWidth={major ? 3 : 2.2} />
)

const LeftTick = ({ x, y, payload }: any) => {
  const major = isMajor(payload.value)
  return (
    <g>
      {tickLine(x, y, x + (major ? 15 : 8), y, major)}
      {major && <PowerLabel x={x - 15} y={y + 12} exp={Math.round(Math.log10(payload.value))} anchor="end" />}
    </g>
  )
}

const RightTick = ({ x, y, payload }: any) => {
  const major = isMajor(payload.value)
  return <g>{tickLine(x, y, x - (major ? 15 : 8), y, major)}</g>
}

const BottomTick = ({ x, y, payload }: any) => (
  <g>
    {payload.value > 1 && payload.value < 1e10 && tickLine(x, y, x, y - 15, true)}
    <PowerLabel x={x} y={y + 39} exp={Math.round(Math.log10(payload.value))} anchor="middle" />
  </g>
)

const TopTick = ({ x, y, payload }: any) => (
  <g>{payload.value > 1 && payload.value < 1e10 && tickLine(x, y, x, y + 15, true)}</g>
)

const CbarTick = ({ x, y, payload }: any) => {
  const major = isMajor(payload.value)
  return (
    <g>
      {tickLine(x, y, x - (major ? 13 : 7), y, major)}
      {major && <PowerLabel x={x + 17} y={y + 12} exp={Math.round(Math.log10(payload.value))} anchor="start" />}
    </g>
  )
}

const yTicks = yMajorTicks.flatMap((t) => (t < 1e6 ? [t, ...yMinorTicks.map((m) => m * t)] : [t]))
const cbarTicks = cbarMajorTicks.flatMap((t) => [t, ...yMinorTicks.map((m) => m * t)]).filter((t) => t <= COUNT_MAX)
const cbarData = [{ x: 0, y: 1 }]

const axisLine = { stroke: '#000', strokeWidth: 3, strokeLinecap: 'square' as const }

export default function App() {
  return (
    <div style={{ position: 'absolute', left: 0, top: 0, width: 1200, height: 1200, background: '#fff' }}>
      <div style={{ position: 'absolute', left: 0, top: 0 }}>
        <ScatterChart width={1200} height={1200} margin={{ top: 14.3, left: 108.5, right: 191.5, bottom: 95.7 }}>
          <XAxis xAxisId={0} dataKey="x" type="number" scale="log" domain={[1, 1e10]} allowDataOverflow ticks={xMajorTicks} interval={0} height={1} tickSize={0} tickMargin={0} axisLine={axisLine} tickLine={false} tick={BottomTick} />
          <XAxis xAxisId="top" orientation="top" type="number" scale="log" domain={[1, 1e10]} allowDataOverflow ticks={xMajorTicks} interval={0} height={1} tickSize={0} tickMargin={0} axisLine={axisLine} tickLine={false} tick={TopTick} />
          <YAxis yAxisId={0} dataKey="y" type="number" scale="log" domain={[1, 1e6]} allowDataOverflow ticks={yTicks} interval={0} width={1} tickSize={0} tickMargin={0} axisLine={axisLine} tickLine={false} tick={LeftTick} />
          <YAxis yAxisId="right" orientation="right" type="number" scale="log" domain={[1, 1e6]} allowDataOverflow ticks={yTicks} interval={0} width={1} tickSize={0} tickMargin={0} axisLine={axisLine} tickLine={false} tick={RightTick} />
          <Scatter data={cells} shape={HeatRect} isAnimationActive={false} />
          <text x={132} y={58} fontFamily={FONT} fontSize={20.8} fill="#000">
            L025N0188_Thermal_non_equilibrium
          </text>
          <text x={557.5} y={1191} textAnchor="middle" fontFamily={FONT} fontSize={33.3} fill="#000">
            # of gas part. updates in step
          </text>
          <text transform="translate(24,560) rotate(-90)" textAnchor="middle" fontFamily={FONT} fontSize={33.3} fill="#000">
            Wallclock time for step [ms]
          </text>
        </ScatterChart>
      </div>
      <div style={{ position: 'absolute', left: 0, top: 0 }}>
        <ScatterChart width={1200} height={1200} margin={{ top: 14.3, left: 1036.5, right: 107.5, bottom: 95.7 }}>
          <defs>
            <linearGradient id="plasmaBar" x1="0" y1="1" x2="0" y2="0">
              {plasmaStops.map((c, i) => (
                <stop key={c} offset={i / (plasmaStops.length - 1)} stopColor={c} />
              ))}
            </linearGradient>
          </defs>
          <XAxis dataKey="x" type="number" domain={[0, 1]} height={1} tick={false} axisLine={axisLine} tickLine={false} />
          <XAxis xAxisId="top" orientation="top" type="number" domain={[0, 1]} height={1} tick={false} axisLine={axisLine} tickLine={false} />
          <YAxis yAxisId="left" type="number" scale="log" domain={[1, COUNT_MAX]} allowDataOverflow width={1} tick={false} axisLine={axisLine} tickLine={false} />
          <YAxis yAxisId={0} dataKey="y" orientation="right" type="number" scale="log" domain={[1, COUNT_MAX]} allowDataOverflow ticks={cbarTicks} interval={0} width={1} tickSize={0} tickMargin={0} axisLine={axisLine} tickLine={false} tick={CbarTick} />
          <ReferenceArea yAxisId={0} y1={1} y2={COUNT_MAX} fill="url(#plasmaBar)" fillOpacity={1} stroke="none" />
          <Scatter data={cbarData} shape={() => <g />} isAnimationActive={false} />
          <text transform="translate(1190,560) rotate(-90)" textAnchor="middle" fontFamily={FONT} fontSize={33.3} fill="#000">
            Number of steps
          </text>
        </ScatterChart>
      </div>
    </div>
  )
}
